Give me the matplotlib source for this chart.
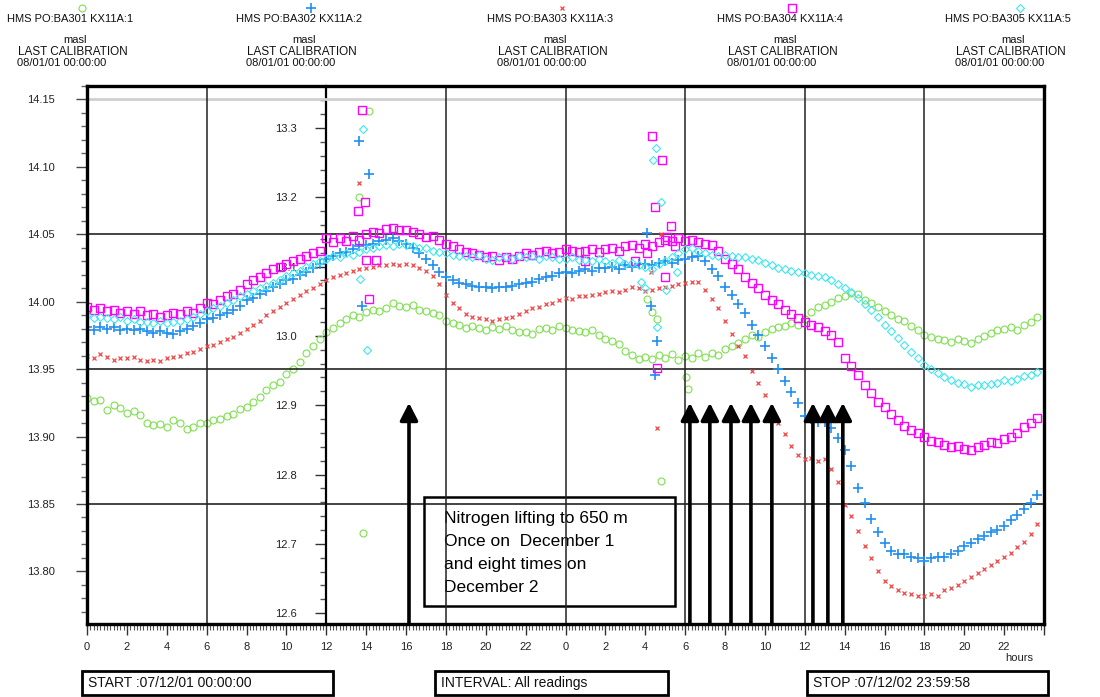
import numpy as np
import matplotlib
matplotlib.use("Agg")
import matplotlib.pyplot as plt
from matplotlib.ticker import MultipleLocator, FixedLocator, FuncFormatter
from matplotlib.patches import Rectangle

plt.rcParams['font.family'] = ['Liberation Sans', 'DejaVu Sans']

# ---------------------------------------------------------------- data
# reading times, hours since 07/12/01 00:00 (three readings per hour)
hours = np.arange(0, 48, 1 / 3)

# BA304 KX11A:4, masl (left scale)
ba304 = [
    13.996, 13.994, 13.995, 13.993, 13.994, 13.992, 13.993, 13.991, 13.993,
    13.990, 13.991, 13.989, 13.990, 13.992, 13.991, 13.993, 13.992, 13.995,
    13.999, 13.998, 14.001, 14.004, 14.006, 14.009, 14.013, 14.016, 14.018,
    14.021, 14.024, 14.026, 14.028, 14.030, 14.032, 14.034, 14.036, 14.038,
    14.047, 14.044, 14.047, 14.045, 14.049, 14.046, 14.050, 14.052, 14.051,
    14.054, 14.055, 14.053, 14.053, 14.052, 14.050, 14.048, 14.049, 14.046,
    14.043, 14.041, 14.039, 14.037, 14.036, 14.035, 14.033, 14.034, 14.031,
    14.033, 14.032, 14.034, 14.036, 14.035, 14.037, 14.038, 14.036, 14.037,
    14.039, 14.038, 14.037, 14.038, 14.039, 14.037, 14.039, 14.040, 14.038,
    14.041, 14.042, 14.040, 14.043, 14.041, 14.044, 14.046, 14.045, 14.047,
    14.045, 14.046, 14.044, 14.043, 14.042, 14.038, 14.032, 14.028, 14.024,
    14.018, 14.014, 14.010, 14.005, 14.001, 13.998, 13.994, 13.991, 13.988,
    13.985, 13.983, 13.981, 13.978, 13.975, 13.970, 13.958, 13.952, 13.946,
    13.938, 13.932, 13.926, 13.922, 13.917, 13.912, 13.908, 13.905, 13.903,
    13.900, 13.897, 13.896, 13.894, 13.892, 13.893, 13.891, 13.890, 13.892,
    13.894, 13.896, 13.895, 13.898, 13.900, 13.903, 13.907, 13.910, 13.914,
]
ba304_spike_t = [13.6, 13.8, 13.95, 14.0, 14.15, 14.5, 25.0, 27.5, 28.1, 28.33,
                 28.5, 28.6, 28.84, 29.0, 29.1, 29.3, 29.5]
ba304_spike_v = [14.067, 14.142, 14.074, 14.031, 14.002, 14.031, 14.030, 14.030,
                 14.036, 14.123, 14.070, 13.951, 14.105, 14.018, 14.048, 14.056,
                 14.041]

# BA305 KX11A:5, masl (left scale)
ba305 = [
    13.990, 13.988, 13.989, 13.988, 13.987, 13.989, 13.986, 13.987, 13.985,
    13.985, 13.984, 13.986, 13.984, 13.985, 13.986, 13.987, 13.989, 13.991,
    13.993, 13.995, 13.997, 13.999, 14.001, 14.004, 14.006, 14.008, 14.010,
    14.012, 14.014, 14.016, 14.019, 14.021, 14.023, 14.026, 14.028, 14.030,
    14.032, 14.034, 14.033, 14.036, 14.035, 14.037, 14.039, 14.040, 14.041,
    14.042, 14.041, 14.043, 14.042, 14.041, 14.040, 14.040, 14.038, 14.037,
    14.036, 14.035, 14.034, 14.034, 14.033, 14.035, 14.032, 14.031, 14.033,
    14.033, 14.032, 14.034, 14.033, 14.034, 14.032, 14.034, 14.033, 14.032,
    14.032, 14.033, 14.031, 14.031, 14.030, 14.032, 14.030, 14.029, 14.031,
    14.028, 14.029, 14.027, 14.026, 14.024, 14.028, 14.030, 14.033, 14.036,
    14.039, 14.040, 14.038, 14.036, 14.035, 14.034, 14.035, 14.034, 14.033,
    14.033, 14.032, 14.031, 14.029, 14.027, 14.025, 14.024, 14.023, 14.022,
    14.021, 14.020, 14.019, 14.018, 14.016, 14.013, 14.010, 14.007, 14.003,
    13.998, 13.994, 13.989, 13.983, 13.978, 13.973, 13.968, 13.963, 13.958,
    13.953, 13.950, 13.947, 13.944, 13.942, 13.940, 13.939, 13.937, 13.938,
    13.938, 13.939, 13.940, 13.942, 13.941, 13.943, 13.945, 13.946, 13.948,
]
ba305_spike_t = [13.7, 13.84, 14.05, 27.8, 28.0, 28.4, 28.55, 28.6, 28.8, 29.05, 29.6]
ba305_spike_v = [14.017, 14.128, 13.964, 14.015, 14.010, 14.105, 14.114, 13.981,
                 14.074, 14.009, 14.022]

# BA302 KX11A:2, masl (left scale)
ba302 = [
    13.981, 13.979, 13.981, 13.980, 13.981, 13.979, 13.980, 13.979, 13.980,
    13.978, 13.977, 13.978, 13.977, 13.976, 13.978, 13.980, 13.982, 13.984,
    13.987, 13.988, 13.990, 13.992, 13.994, 13.997, 14.001, 14.003, 14.006,
    14.008, 14.011, 14.013, 14.016, 14.017, 14.020, 14.022, 14.025, 14.028,
    14.032, 14.034, 14.036, 14.037, 14.039, 14.041, 14.042, 14.043, 14.045,
    14.046, 14.047, 14.045, 14.043, 14.040, 14.036, 14.032, 14.027, 14.022,
    14.018, 14.016, 14.014, 14.013, 14.012, 14.011, 14.011, 14.010, 14.011,
    14.011, 14.012, 14.013, 14.014, 14.015, 14.017, 14.018, 14.019, 14.021,
    14.022, 14.021, 14.023, 14.024, 14.023, 14.025, 14.025, 14.026, 14.024,
    14.027, 14.026, 14.028, 14.028, 14.027, 14.029, 14.030, 14.029, 14.031,
    14.032, 14.033, 14.034, 14.030, 14.024, 14.019, 14.011, 14.005, 13.998,
    13.992, 13.983, 13.975, 13.967, 13.958, 13.950, 13.941, 13.933, 13.925,
    13.915, 13.913, 13.911, 13.911, 13.906, 13.899, 13.890, 13.878, 13.862,
    13.851, 13.839, 13.829, 13.821, 13.815, 13.813, 13.813, 13.811, 13.810,
    13.808, 13.810, 13.811, 13.811, 13.813, 13.815, 13.819, 13.821, 13.824,
    13.826, 13.829, 13.831, 13.834, 13.838, 13.842, 13.846, 13.851, 13.857,
]
ba302_spike_t = [13.65, 13.8, 14.15, 28.1, 28.3, 28.5, 28.6]
ba302_spike_v = [14.119, 13.997, 14.095, 14.051, 13.997, 13.946, 13.971]

# BA303 KX11A:3, masl (left scale)
ba303 = [
    13.960, 13.958, 13.961, 13.959, 13.957, 13.958, 13.958, 13.959, 13.957,
    13.956, 13.957, 13.956, 13.958, 13.959, 13.960, 13.962, 13.963, 13.965,
    13.967, 13.968, 13.970, 13.972, 13.974, 13.977, 13.980, 13.983, 13.986,
    13.990, 13.993, 13.996, 13.999, 14.002, 14.005, 14.008, 14.010, 14.013,
    14.016, 14.018, 14.020, 14.021, 14.023, 14.024, 14.025, 14.026, 14.027,
    14.027, 14.028, 14.027, 14.028, 14.027, 14.025, 14.023, 14.019, 14.013,
    14.005, 13.999, 13.995, 13.991, 13.989, 13.988, 13.987, 13.986, 13.987,
    13.988, 13.989, 13.991, 13.993, 13.995, 13.996, 13.998, 13.999, 14.001,
    14.003, 14.002, 14.004, 14.004, 14.005, 14.006, 14.007, 14.008, 14.007,
    14.009, 14.011, 14.010, 14.008, 14.009, 14.010, 14.011, 14.012, 14.013,
    14.014, 14.015, 14.015, 14.009, 14.002, 13.995, 13.986, 13.976, 13.967,
    13.960, 13.949, 13.940, 13.931, 13.920, 13.910, 13.902, 13.893, 13.886,
    13.883, 13.884, 13.882, 13.883, 13.876, 13.866, 13.849, 13.841, 13.830,
    13.819, 13.810, 13.800, 13.793, 13.789, 13.786, 13.784, 13.783, 13.782,
    13.782, 13.783, 13.782, 13.786, 13.788, 13.790, 13.793, 13.796, 13.799,
    13.802, 13.805, 13.808, 13.811, 13.814, 13.818, 13.822, 13.828, 13.835,
]
ba303_spike_t = [13.65, 28.3, 28.6, 28.8]
ba303_spike_v = [14.088, 14.022, 13.906, 14.050]

# BA301 KX11A:1, masl (inner scale drawn at 12 h)
ba301 = [
    12.910, 12.906, 12.908, 12.893, 12.900, 12.896, 12.889, 12.891, 12.886,
    12.874, 12.871, 12.873, 12.868, 12.878, 12.874, 12.866, 12.869, 12.875,
    12.874, 12.878, 12.880, 12.884, 12.888, 12.894, 12.898, 12.904, 12.912,
    12.922, 12.929, 12.934, 12.945, 12.952, 12.962, 12.975, 12.985, 12.996,
    13.006, 13.012, 13.018, 13.025, 13.030, 13.027, 13.035, 13.038, 13.036,
    13.040, 13.047, 13.043, 13.041, 13.045, 13.038, 13.036, 13.033, 13.030,
    13.022, 13.018, 13.016, 13.012, 13.015, 13.011, 13.009, 13.013, 13.010,
    13.014, 13.008, 13.005, 13.006, 13.003, 13.010, 13.012, 13.008, 13.014,
    13.012, 13.009, 13.007, 13.005, 13.008, 13.001, 12.996, 12.992, 12.988,
    12.978, 12.972, 12.967, 12.970, 12.966, 12.972, 12.968, 12.974, 12.965,
    12.971, 12.968, 12.975, 12.970, 12.976, 12.973, 12.981, 12.986, 12.990,
    12.995, 13.001, 12.998, 13.006, 13.010, 13.013, 13.015, 13.018, 13.016,
    13.024, 13.035, 13.041, 13.045, 13.049, 13.055, 13.058, 13.062, 13.060,
    13.052, 13.047, 13.042, 13.036, 13.030, 13.025, 13.021, 13.015, 13.008,
    13.002, 12.998, 12.996, 12.994, 12.991, 12.995, 12.993, 12.990, 12.996,
    13.000, 13.004, 13.008, 13.010, 13.013, 13.009, 13.016, 13.020, 13.027,
]
ba301_spike_t = [13.65, 13.85, 14.15, 28.1, 28.35, 28.6, 28.8, 30.05, 30.15]
ba301_spike_v = [13.200, 12.716, 13.325, 13.053, 13.035, 13.025, 12.790, 12.940, 12.923]

# nitrogen lifting events (hours since start)
lift_hours = [16.15, 30.24, 31.24, 32.30, 33.30, 34.35, 36.41, 37.16, 37.91]

sensors = ["HMS PO:BA301 KX11A:1", "HMS PO:BA302 KX11A:2", "HMS PO:BA303 KX11A:3",
           "HMS PO:BA304 KX11A:4", "HMS PO:BA305 KX11A:5"]
left_ticks = [13.80, 13.85, 13.90, 13.95, 14.00, 14.05, 14.10, 14.15]
inner_ticks = [12.6, 12.7, 12.8, 12.9, 13.0, 13.1, 13.2, 13.3]

# ---------------------------------------------------------------- styles
GREEN, BLUE, RED, MAG, CYAN = "#7ee04e", "#1f8ff0", "#f04545", "#ff00ff", "#3fe6f2"
sty = {
    "ba301": dict(marker="o", ms=5, mfc="none", mec=GREEN, mew=0.8, ls="none"),
    "ba302": dict(marker="+", ms=7, mec=BLUE, mew=1.2, ls="none"),
    "ba303": dict(marker="x", ms=3.2, mec=RED, mew=0.9, ls="none"),
    "ba304": dict(marker="s", ms=6, mfc="none", mec=MAG, mew=1.0, ls="none"),
    "ba305": dict(marker="D", ms=4, mfc="none", mec=CYAN, mew=0.8, ls="none"),
}

W, H = 1100, 697
L, R, T, B = 87, 1044, 86, 624
rect = [L / W, 1 - B / H, (R - L) / W, (B - T) / H]

fig = plt.figure(figsize=(W / 100, H / 100), dpi=100)

# inner scale (BA301) lives on its own axes, underneath the main one
ax2 = fig.add_axes(rect)
ax2.set_xlim(0, 48)
ax2.set_ylim(12.5843, 13.3606)
for s in ("top", "right", "bottom"):
    ax2.spines[s].set_visible(False)
ax2.spines["left"].set_position(("data", 12))
ax2.spines["left"].set_linewidth(1.6)
ax2.set_xticks([])
ax2.yaxis.set_major_locator(FixedLocator(inner_ticks))
ax2.yaxis.set_minor_locator(MultipleLocator(0.02))
ax2.yaxis.set_major_formatter(FuncFormatter(lambda v, p: f"{v:.1f}"))
ax2.tick_params(axis="y", which="major", direction="out", length=8, width=1.0,
                color="#333", labelsize=8, pad=13, labelcolor="#222")
ax2.tick_params(axis="y", which="minor", direction="out", length=4.5, width=1.0,
                color="#555")
ax2.plot(hours, ba301, **sty["ba301"])
ax2.plot(ba301_spike_t, ba301_spike_v, **sty["ba301"])

ax = fig.add_axes(rect)
ax.set_zorder(ax2.get_zorder() + 1)
ax.patch.set_visible(False)
ax.set_xlim(0, 48)
ax.set_ylim(13.761, 14.160)
for s in ax.spines.values():
    s.set_linewidth(2.4)

# grid
ax.axhline(14.15, color="#cfcfcf", lw=2.0, zorder=0.5)
for yv in (14.05, 13.95, 13.85):
    ax.axhline(yv, color="#111", lw=1.1, zorder=0.6)
for xv in (6, 18, 24, 30, 36, 42):
    ax.axvline(xv, color="#222", lw=1.1, zorder=0.6)

ax.yaxis.set_major_locator(FixedLocator(left_ticks))
ax.yaxis.set_minor_locator(MultipleLocator(0.01))
ax.yaxis.set_major_formatter(FuncFormatter(lambda v, p: f"{v:.2f}"))
ax.tick_params(axis="y", which="major", direction="out", length=8, width=1.0,
               color="#444", labelsize=8, pad=15, labelcolor="#222")
ax.tick_params(axis="y", which="minor", direction="out", length=4.5, width=1.0,
               color="#666")

ax.xaxis.set_major_locator(MultipleLocator(2))
ax.xaxis.set_minor_locator(MultipleLocator(1 / 6))
ax.xaxis.set_major_formatter(
    FuncFormatter(lambda v, p: "" if v > 47.5 else f"{int(round(v)) % 24}"))
ax.tick_params(axis="x", which="major", direction="out", length=8, width=1.0,
               color="#333", labelsize=8, pad=5, labelcolor="#222")
ax.tick_params(axis="x", which="minor", direction="out", length=4, width=0.8,
               color="#555")

ax.plot(hours, ba302, **sty["ba302"])
ax.plot(ba302_spike_t, ba302_spike_v, **sty["ba302"])
ax.plot(hours, ba303, **sty["ba303"])
ax.plot(ba303_spike_t, ba303_spike_v, **sty["ba303"])
ax.plot(hours, ba304, **sty["ba304"])
ax.plot(ba304_spike_t, ba304_spike_v, **sty["ba304"])
ax.plot(hours, ba305, **sty["ba305"])
ax.plot(ba305_spike_t, ba305_spike_v, **sty["ba305"])

# nitrogen lifting arrows
for t in lift_hours:
    ax.annotate("", xy=(t, 13.925), xytext=(t, 13.761),
                arrowprops=dict(arrowstyle="-|>,head_length=0.7,head_width=0.36",
                                color="black", lw=2.6, mutation_scale=15,
                                shrinkA=0, shrinkB=0),
                annotation_clip=False, zorder=5)

# ---------------------------------------------------------------- page furniture (pixel coordinates)
ov = fig.add_axes([0, 0, 1, 1])
ov.set_xlim(0, W)
ov.set_ylim(H, 0)
ov.axis("off")
ov.patch.set_alpha(0)

centers = [70, 299, 550, 780, 1008]
keys = ["ba301", "ba302", "ba303", "ba304", "ba305"]
for cx, name, key in zip(centers, sensors, keys):
    ov.plot([cx + 12], [8], **sty[key])
    ov.text(cx, 19, name, ha="center", va="center", fontsize=8, color="#111")
    ov.text(cx + 5, 40, "masl", ha="center", va="center", fontsize=8, color="#111")
    ov.text(cx + 3, 52, "LAST CALIBRATION", ha="center", va="center", fontsize=8.5,
            color="#111")
    ov.text(cx - 8, 63, "08/01/01 00:00:00", ha="center", va="center", fontsize=8,
            color="#111")

ov.text(1005, 658, "hours", ha="left", va="center", fontsize=8, color="#222")

# note box
ov.add_patch(Rectangle((424, 497), 251, 109, facecolor="white", edgecolor="black",
                       lw=1.8, zorder=6))
note = ["Nitrogen lifting to 650 m", "Once on  December 1",
        "and eight times on", "December 2"]
for i, line in enumerate(note):
    ov.text(444, 519 + i * 22.7, line, ha="left", va="center", fontsize=12.5,
            color="black", zorder=7)

# footer boxes
for x0, x1, label in [(82, 333, "START :07/12/01 00:00:00"),
                      (435, 668, "INTERVAL: All readings"),
                      (807, 1048, "STOP :07/12/02 23:59:58")]:
    ov.add_patch(Rectangle((x0, 671), x1 - x0, 24, facecolor="white",
                           edgecolor="black", lw=2.0))
    ov.text(x0 + 6, 683, label, ha="left", va="center", fontsize=10, color="#111")

fig.savefig("out.png", dpi=100)
